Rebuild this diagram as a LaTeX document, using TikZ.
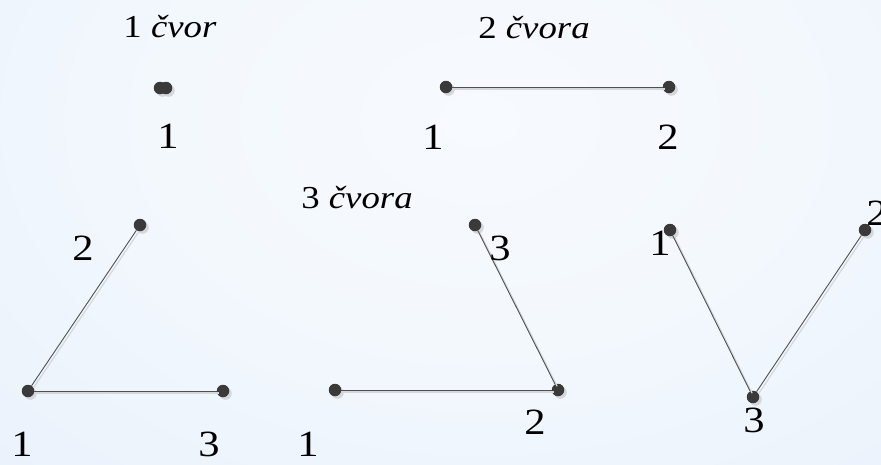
\documentclass[tikz,border=0pt]{standalone}
\usepackage{fontspec}
\setmainfont{Liberation Serif}
\usetikzlibrary{shadows}
\definecolor{bgA}{HTML}{F7FAFE}
\definecolor{bgB}{HTML}{F3F8FD}
\definecolor{bgC}{HTML}{ECF3FC}
\definecolor{bgD}{HTML}{E3EEFA}
\definecolor{bgE}{HTML}{D7E7F8}
\definecolor{bgF}{HTML}{CBE1F7}
\definecolor{bgG}{HTML}{C0DCF5}
\definecolor{bgH}{HTML}{B5D5F3}
\definecolor{dotcol}{HTML}{3A3A3A}
\definecolor{edgecol}{HTML}{505050}
\definecolor{shadcol}{HTML}{D4D7DC}
\pgfdeclareradialshading{bgshade}{\pgfpoint{0bp}{0bp}}{%
  color(0bp)=(bgA); color(10bp)=(bgB); color(20bp)=(bgC); color(27.5bp)=(bgD); color(32.5bp)=(bgE); color(40bp)=(bgF); color(43.5bp)=(bgG); color(50bp)=(bgH)}
\newcommand{\widetxt}[1]{\scalebox{1.15}[1]{#1}}
\tikzset{
  dotnode/.style={circle, fill=dotcol, minimum size=12.5pt, inner sep=0pt,
    drop shadow={shadow xshift=2.5pt, shadow yshift=-2.5pt, fill=shadcol, opacity=1}},
  edgeline/.style={draw=edgecol, line width=0.9pt},
  edgeshadow/.style={draw=shadcol, line width=1.2pt, transform canvas={shift={(2pt,-2pt)}}},
  titletext/.style={font=\fontsize{32}{36}\selectfont, inner sep=0pt},
  labeltext/.style={font=\fontsize{37}{40}\selectfont, inner sep=0pt}
}
\begin{document}
\begin{tikzpicture}[x=1pt,y=-1pt]
\useasboundingbox (0,0) rectangle (881,464);
\begin{scope}
\clip (0,0) rectangle (881,464);
\shade[shading=bgshade] (480,120) ellipse [x radius=800, y radius=560];
\end{scope}

% titles
\node[titletext] (t1) at (170,27) {\widetxt{1 \textit{čvor}}};
\node[titletext] (t2) at (534,28) {\widetxt{2 \textit{čvora}}};
\node[titletext] (t3) at (357,198) {\widetxt{3 \textit{čvora}}};

% one node
\node[dotnode] (a1) at (160,88) {};
\node[dotnode] (a1b) at (166,88) {};
\node[labeltext] (la1) at (168,136) {\widetxt{1}};

% two nodes
\node[dotnode] (b1) at (446,87) {};
\node[dotnode] (b2) at (669,87) {};
\draw[edgeshadow] (b1) -- (b2);
\draw[edgeline] (b1) -- (b2);
\node[labeltext] (lb1) at (433,137) {\widetxt{1}};
\node[labeltext] (lb2) at (668,137) {\widetxt{2}};

% three nodes, left
\node[dotnode] (c2) at (140,225) {};
\node[dotnode] (c1) at (28,391) {};
\node[dotnode] (c3) at (223,391) {};
\draw[edgeshadow] (c1) -- (c2);
\draw[edgeshadow] (c1) -- (c3);
\draw[edgeline] (c1) -- (c2);
\draw[edgeline] (c1) -- (c3);
\node[labeltext] (lc2) at (83,248) {\widetxt{2}};
\node[labeltext] (lc1) at (22,444) {\widetxt{1}};
\node[labeltext] (lc3) at (209,444) {\widetxt{3}};

% three nodes, middle
\node[dotnode] (d3) at (475,225) {};
\node[dotnode] (d1) at (335,390) {};
\node[dotnode] (d2) at (558,390) {};
\draw[edgeshadow] (d1) -- (d2);
\draw[edgeshadow] (d3) -- (d2);
\draw[edgeline] (d1) -- (d2);
\draw[edgeline] (d3) -- (d2);
\node[labeltext] (ld3) at (500,248) {\widetxt{3}};
\node[labeltext] (ld2) at (535,422) {\widetxt{2}};
\node[labeltext] (ld1) at (308,444) {\widetxt{1}};

% three nodes, right
\node[dotnode] (e1) at (670,230) {};
\node[dotnode] (e2) at (865,230) {};
\node[dotnode] (e3) at (753,397) {};
\draw[edgeshadow] (e1) -- (e3);
\draw[edgeshadow] (e2) -- (e3);
\draw[edgeline] (e1) -- (e3);
\draw[edgeline] (e2) -- (e3);
\node[labeltext] (le1) at (660,243) {\widetxt{1}};
\node[labeltext] (le2) at (877,213) {\widetxt{2}};
\node[labeltext] (le3) at (754,420) {\widetxt{3}};
\end{tikzpicture}
\end{document}
